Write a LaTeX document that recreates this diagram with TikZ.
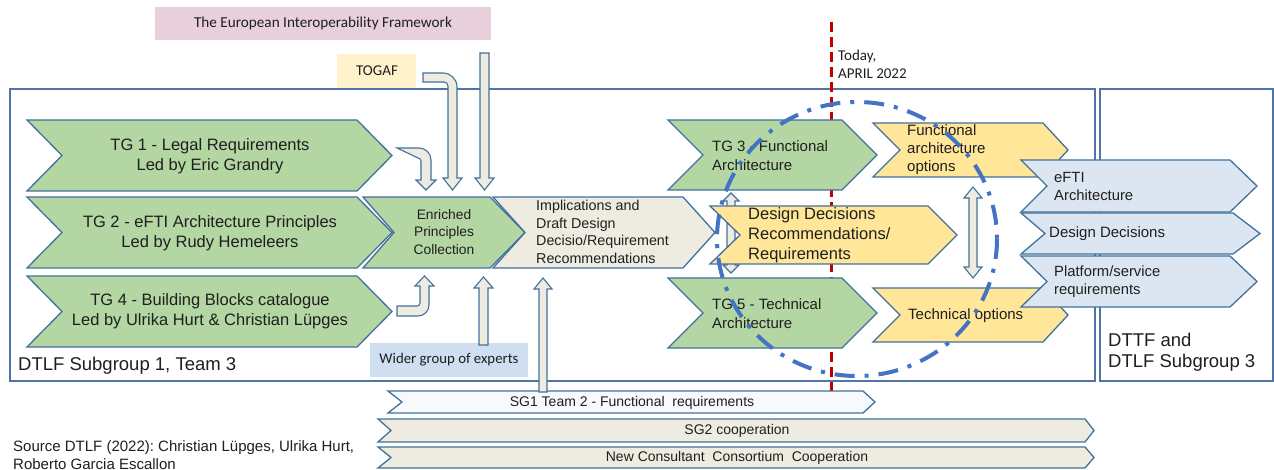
\documentclass[tikz,border=0pt]{standalone}
\usepackage{fontspec}
\setmainfont{Liberation Sans}
\newfontfamily\calfont{Carlito}
\definecolor{bordc}{HTML}{41719C}
\definecolor{framec}{HTML}{4F74A6}
\definecolor{greenc}{HTML}{B3D6A3}
\definecolor{beigec}{HTML}{EEECE1}
\definecolor{yellowc}{HTML}{FFE699}
\definecolor{bluec}{HTML}{DCE6F2}
\definecolor{pinkc}{HTML}{E7D0DC}
\definecolor{togafc}{HTML}{FFF2CC}
\definecolor{widerc}{HTML}{CFDFF1}
\definecolor{whitec}{HTML}{F7F9FC}
\definecolor{redc}{HTML}{C00000}
\definecolor{ellc}{HTML}{4472C4}
\newcommand\chevpath[7]{\path[#1] (#2,#6) -- (#4,#6) -- (#5,{(#6+#7)/2}) -- (#4,#7) -- (#2,#7) -- (#3,{(#6+#7)/2}) -- cycle;}
\tikzset{
  chv/.style={draw=bordc, line width=1.3pt, line join=miter},
  grn/.style={chv, fill=greenc},
  bge/.style={chv, fill=beigec},
  ylw/.style={chv, fill=yellowc},
  blu/.style={chv, fill=bluec},
  wht/.style={chv, fill=whitec},
  barrow/.style={draw=bordc, line width=1.1pt, fill=beigec, line join=miter},
  frame/.style={draw=framec, line width=1.3pt},
  txt/.style={inner sep=0pt, text=black!88},
}
\begin{document}
\begin{tikzpicture}[x=1pt,y=-1pt]
\useasboundingbox (0,0) rectangle (1274,470);
\fill[white] (0,0) rectangle (1274,470);
% top boxes
\fill[pinkc] (155,7) rectangle (491,40);
\node[txt, font=\calfont\fontsize{15.2}{18}\selectfont] (eif) at (323,23) {The European Interoperability Framework};
\fill[togafc] (337,54) rectangle (416,88);
\node[txt, font=\calfont\fontsize{15}{18}\selectfont] (togaf) at (377,71) {TOGAF};
% frames
\draw[frame] (10,89) rectangle (1095,381);
\draw[frame] (1100,89) rectangle (1273,381);
% today line
\coordinate (todaytop) at (831,22);
\coordinate (todaybot) at (831,392);
\draw[redc, line width=3pt, dash pattern=on 10pt off 5pt] (todaytop) -- (todaybot);
\node[txt, anchor=west, align=left, font=\calfont\fontsize{15}{18}\selectfont] (today) at (838,64) {Today,\\APRIL 2022};
% wider group box
\fill[widerc] (370,343) rectangle (528,377);
\node[txt, font=\calfont\fontsize{14.8}{17}\selectfont] (wider) at (449,360) {Wider group of experts};
% left chevrons
\chevpath{grn}{27}{62}{357}{392}{120}{191}
\chevpath{grn}{27}{62}{357}{392}{197}{268}
\chevpath{grn}{27}{62}{357}{392}{276}{347}
\node[txt, align=center, font=\fontsize{16.5}{19.5}\selectfont] (tg1) at (210,156) {TG 1 - Legal Requirements\\Led by Eric Grandry};
\node[txt, align=center, font=\fontsize{16.5}{19.5}\selectfont] (tg2) at (210,233) {TG 2 - eFTI Architecture Principles\\Led by Rudy Hemeleers};
\node[txt, align=center, font=\fontsize{16.5}{19.5}\selectfont] (tg4) at (210,311) {TG 4 - Building Blocks catalogue\\Led by Ulrika Hurt \& Christian Lüpges};
\chevpath{grn}{363}{394}{490}{525}{197}{268}
\node[txt, align=center, font=\fontsize{13.8}{17.5}\selectfont] (enr) at (444,232) {Enriched\\Principles\\Collection};
\chevpath{bge}{493}{525}{683}{715}{197}{268}
\node[txt, anchor=west, align=left, font=\fontsize{14.3}{17.7}\selectfont] (impl) at (536,232) {Implications and\\Draft Design\\Decisio/Requirement\\Recommendations};
% bottom strips
\chevpath{wht}{388}{402}{863}{875}{391}{413}
\chevpath{bge}{378}{391}{1085}{1094}{419}{442}
\chevpath{bge}{378}{391}{1085}{1094}{447}{468}
\node[txt, font=\fontsize{14}{16}\selectfont] (sg1) at (632,403) {SG1 Team 2 - Functional\ \ requirements};
\node[txt, font=\fontsize{14}{16}\selectfont] (sg2) at (737,431) {SG2 cooperation};
\node[txt, font=\fontsize{14}{16}\selectfont] (ncc) at (737,458) {New Consultant\ \ Consortium\ \ Cooperation};
\node[txt, anchor=west, align=left, font=\fontsize{15}{18}\selectfont] (src) at (13,455) {Source DTLF (2022):\ Christian Lüpges, Ulrika Hurt,\\Roberto Garcia Escallon};
% block arrows into Enriched
\draw[barrow] (397,148) -- (419,148) .. controls (425.6,148) and (431,153.4) .. (431,160) -- (431,180) -- (436,180) -- (426,190) -- (416,180) -- (421,180) -- (421,161) .. controls (421,159.3) and (419.7,158) .. (418,158) -- cycle;
\draw[barrow] (423,73) -- (443,73) .. controls (450.7,73) and (457,79.3) .. (457,87) -- (457,178) -- (462,178) -- (452.5,190) -- (443,178) -- (448,178) -- (448,86) .. controls (448,83.8) and (446.2,82) .. (444,82) -- (423,82) -- cycle;
\draw[barrow] (480,53) -- (489,53) -- (489,178) -- (494,178) -- (484.5,190) -- (475,178) -- (480,178) -- cycle;
\draw[barrow] (397,316) -- (418,316) .. controls (424.1,316) and (429,311.1) .. (429,305) -- (429,286) -- (434,286) -- (424.5,276) -- (415,286) -- (420,286) -- (420,303) .. controls (420,304.7) and (418.7,306) .. (417,306) -- (397,306) -- cycle;
\draw[barrow] (479,345) -- (488,345) -- (488,288) -- (493,288) -- (483.5,277) -- (474,288) -- (479,288) -- cycle;
\draw[barrow] (539,392) -- (547,392) -- (547,289) -- (552,289) -- (543,278) -- (534,289) -- (539,289) -- cycle;
% right chevrons
\chevpath{grn}{668}{703}{842}{877}{120}{190}
\chevpath{grn}{668}{703}{842}{877}{278}{348}
\node[txt, anchor=west, align=left, font=\fontsize{15}{19}\selectfont] (tg3) at (712,155.5) {TG 3 - Functional\\Architecture};
\node[txt, anchor=west, align=left, font=\fontsize{15}{19}\selectfont] (tg5) at (712,313.5) {TG 5 - Technical\\Architecture};
\draw[barrow] (727,201) -- (723,201) -- (731,193) -- (739,201) -- (735,201) -- (735,265) -- (739,265) -- (731,273) -- (723,265) -- (727,265) -- cycle;
\chevpath{ylw}{710}{740}{928}{957}{206}{264}
\node[txt, anchor=west, align=left, font=\fontsize{16.5}{20}\selectfont] (dd) at (748,235) {Design Decisions\\Recommendations/\\Requirements};
\chevpath{ylw}{873}{900}{1043}{1068}{123}{177}
\chevpath{ylw}{873}{900}{1043}{1068}{288}{342}
\node[txt, anchor=west, align=left, font=\fontsize{15}{18}\selectfont] (fao) at (907,150) {Functional\\architecture\\options};
\node[txt, anchor=west, font=\fontsize{15}{18}\selectfont] (tco) at (908,316) {Technical options};
\draw[barrow] (969,198) -- (964,198) -- (973,187) -- (982,198) -- (977,198) -- (977,267) -- (982,267) -- (973,278) -- (964,267) -- (969,267) -- cycle;
% blue chevrons
\chevpath{blu}{1021}{1047}{1230}{1257}{160}{212}
\chevpath{blu}{1021}{1045}{1233}{1260}{213}{254}
\chevpath{blu}{1021}{1047}{1230}{1257}{256}{307}
\node[txt, anchor=west, align=left, font=\fontsize{14.8}{18}\selectfont] (efti) at (1054,186) {eFTI\\Architecture};
\node[txt, anchor=west, font=\fontsize{15}{18}\selectfont] (bdd) at (1049,233.5) {Design Decisions};
\node[txt, anchor=west, align=left, font=\fontsize{14.8}{18}\selectfont] (plat) at (1054,282) {Platform/service\\requirements};
% group labels
\node[txt, anchor=west, align=left, font=\fontsize{18.5}{21}\selectfont] (dttf) at (1108,352) {DTTF and\\DTLF Subgroup 3};
\node[txt, anchor=west, font=\fontsize{18.5}{21}\selectfont] (sg1t3) at (18,366) {DTLF Subgroup 1, Team 3};
% ellipse
\draw[ellc, line width=4pt, dash pattern=on 20pt off 10pt on 4pt off 10pt] (857,239) ellipse [x radius=140, y radius=137];
\end{tikzpicture}
\end{document}
